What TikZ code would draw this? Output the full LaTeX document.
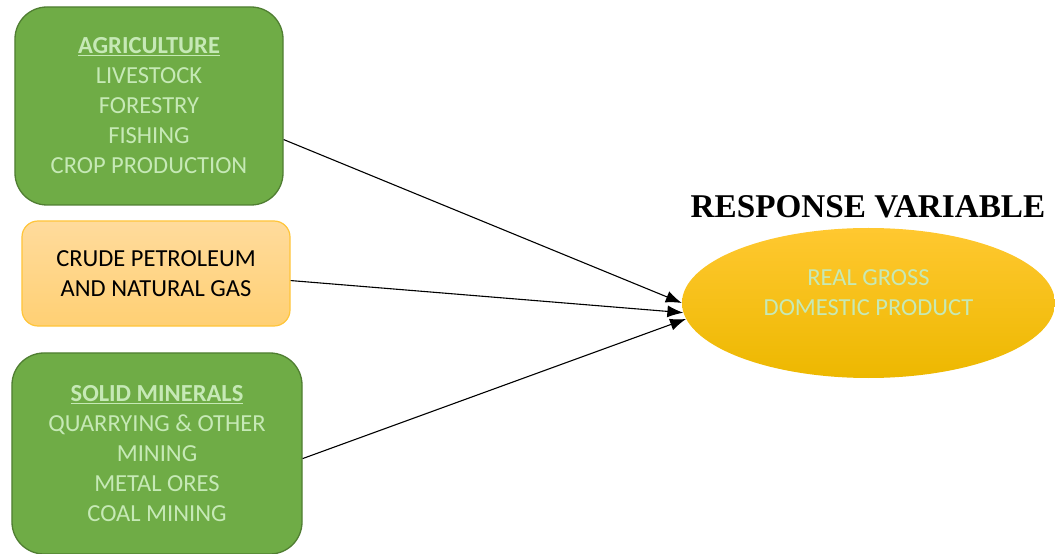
\documentclass[tikz,border=0pt]{standalone}
\usepackage{fontspec}
\setmainfont{Carlito}
\newfontfamily\titlefont{Liberation Serif}
\usetikzlibrary{arrows.meta,shapes.geometric}
\definecolor{leaf}{HTML}{6FAC46}
\definecolor{leafdark}{HTML}{507E32}
\definecolor{leaflight}{HTML}{C6E9B6}
\definecolor{oiltop}{HTML}{FFDB9C}
\definecolor{oilbot}{HTML}{FFD074}
\definecolor{oilrim}{HTML}{FFC53A}
\definecolor{goldtop}{HTML}{FFC830}
\definecolor{goldbot}{HTML}{EDB800}
\begin{document}
\begin{tikzpicture}[x=1bp,y=-1bp,
  every node/.style={font=\fontsize{24.5bp}{30bp}\selectfont,align=center,inner sep=0pt},
  sector/.style={draw=leafdark,line width=1.3bp,fill=leaf,text=leaflight,rounded corners=32bp},
  link/.style={-{Latex[length=16bp,width=12bp]},line width=1.1bp}]
  \useasboundingbox (0,0) rectangle (1055,554);
  \node[sector,minimum width=268bp,minimum height=198bp] (agri) at (149,106)
    {\underline{\textbf{AGRICULTURE}}\\LIVESTOCK\\FORESTRY\\FISHING\\CROP PRODUCTION};
  \node[draw=oilrim,line width=1.2bp,top color=oiltop,bottom color=oilbot,rounded corners=16bp,
    minimum width=268bp,minimum height=105bp] (oil) at (156,273.5)
    {CRUDE PETROLEUM\\AND NATURAL GAS};
  \node[sector,minimum width=290bp,minimum height=201bp] (mine) at (157,453.5)
    {\underline{\textbf{SOLID MINERALS}}\\QUARRYING \& OTHER\\MINING\\METAL ORES\\COAL MINING};
  \node[ellipse,top color=goldtop,bottom color=goldbot,text=leaflight,
    minimum width=373bp,minimum height=150bp] (gdp) at (868.5,303)
    {REAL GROSS\\DOMESTIC PRODUCT\\[-10bp]};
  \node[font=\titlefont\bfseries\fontsize{33.2bp}{38bp}\selectfont] (resp) at (868,207) {RESPONSE VARIABLE};
  \draw[link] (agri.-14) -- (gdp.180);
  \draw[link] (oil.-3) -- (gdp.183);
  \draw[link] (mine.-2.6) -- (gdp.185);
\end{tikzpicture}
\end{document}
